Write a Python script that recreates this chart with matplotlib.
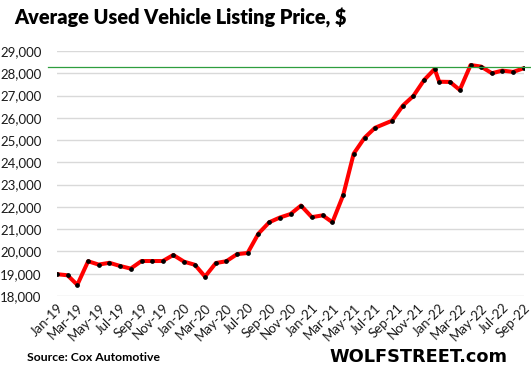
import matplotlib
matplotlib.use("Agg")
import matplotlib.pyplot as plt
import matplotlib.dates as mdates
from matplotlib.ticker import FuncFormatter, MultipleLocator
import pandas as pd

# monthly listing dates (Aug-Dec 2021 points sit mid-month in the source chart)
dates = pd.to_datetime(
    ["2019-%02d-01" % m for m in range(1, 13)]
    + ["2020-%02d-01" % m for m in range(1, 13)]
    + ["2021-%02d-01" % m for m in range(1, 8)]
    + ["2021-08-19", "2021-09-19", "2021-10-19", "2021-11-19", "2021-12-19"]
    + ["2022-%02d-01" % m for m in range(1, 10)]
)

prices = [
    18980, 18930, 18500, 19560, 19410, 19490, 19350, 19230, 19570, 19570, 19570, 19840,  # 2019
    19540, 19400, 18870, 19480, 19560, 19880, 19930, 20800, 21310, 21520, 21680, 22060,  # 2020
    21540, 21620, 21310, 22530, 24390, 25100, 25550, 25870, 26550, 26980, 27700, 28190,  # 2021
    27620, 27610, 27250, 28370, 28300, 28000, 28120, 28060, 28230,                       # 2022
]

ref_level = 28260

title = "Average Used Vehicle Listing Price, $"
source = "Source: Cox Automotive"
brand = "WOLFSTREET.com"

plt.rcParams['font.family'] = ['Lato', 'DejaVu Sans']

fig = plt.figure(figsize=(5.31, 3.76), dpi=100)
ax = fig.add_axes([0.1068, 0.2128, 0.88, 0.6516])

ax.plot(dates, prices, color='#ff0000', lw=2.9, zorder=3)
ax.plot(dates, prices, ls='none', marker='o', ms=2.4, color='black', zorder=4)

# reference line at latest level, running past the plot area
ax.plot([-0.019, 1.016], [ref_level, ref_level], color='#2e9e3e', lw=0.9,
        transform=ax.get_yaxis_transform(), clip_on=False, zorder=5)

ax.set_ylim(18000, 29000)
ax.set_xlim(dates[0], dates[-1])
ax.yaxis.set_major_locator(MultipleLocator(1000))
ax.yaxis.set_major_formatter(FuncFormatter(lambda v, p: f"{int(v):,}"))
ax.xaxis.set_major_locator(mdates.MonthLocator(bymonth=[1, 3, 5, 7, 9, 11]))
ax.xaxis.set_major_formatter(mdates.DateFormatter("%b-%y"))

ax.grid(axis='y', color='#d9d9d9', lw=1.0)
ax.set_axisbelow(True)
for s in ax.spines.values():
    s.set_visible(False)
ax.tick_params(axis='both', length=0, labelsize=9.5, colors='#1a1a1a')
ax.tick_params(axis='y', pad=11)
ax.tick_params(axis='x', pad=4)
for lab in ax.get_xticklabels():
    lab.set_rotation(45)
    lab.set_ha('right')
    lab.set_va('top')
    lab.set_rotation_mode('anchor')

fig.text(0.026, 0.953, title, fontsize=14.3, fontweight='heavy', ha='left', va='center', color='black')
fig.text(0.051, 0.048, source, fontsize=8.8, fontweight='bold', ha='left', va='center', color='black')
fig.text(0.955, 0.05, brand, fontsize=12.8, fontweight='heavy', ha='right', va='center',
         color='black', family=['DejaVu Sans'])

fig.savefig("out.png", dpi=100)
